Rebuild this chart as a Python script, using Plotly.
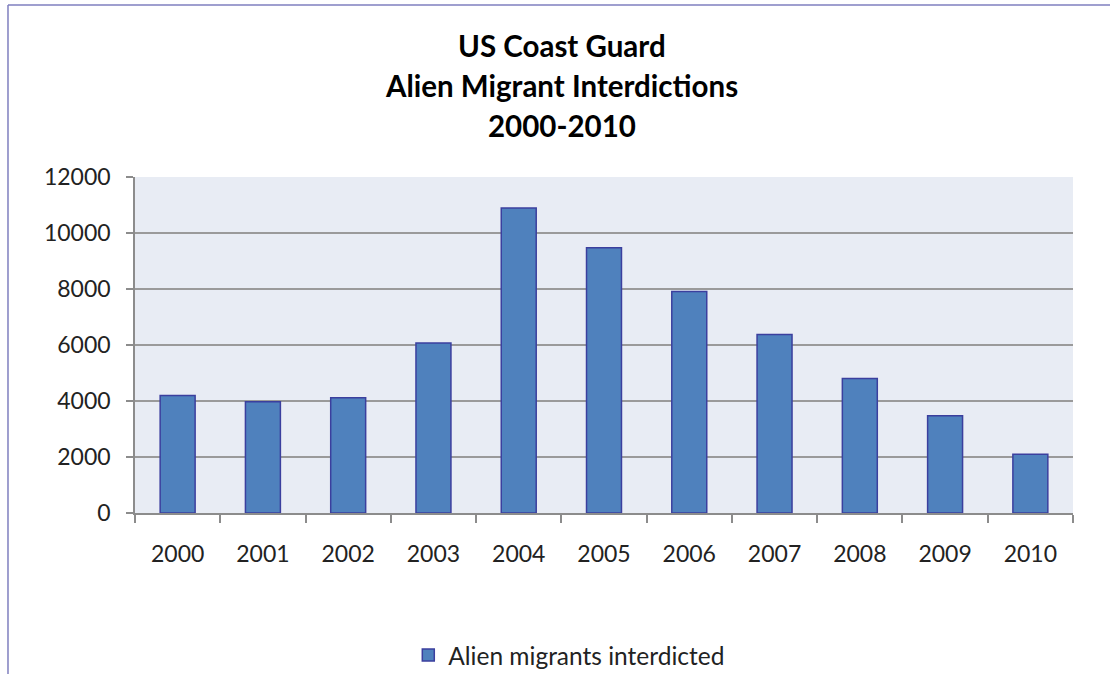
import plotly.graph_objects as go

years = ["2000", "2001", "2002", "2003", "2004", "2005", "2006", "2007", "2008", "2009", "2010"]
interdicted = [4200, 3975, 4115, 6075, 10890, 9470, 7910, 6375, 4800, 3475, 2100]
series_name = "Alien migrants interdicted"
y_ticks = [0, 2000, 4000, 6000, 8000, 10000, 12000]
y_tick_labels = [str(v) for v in y_ticks]
title_lines = ["US Coast Guard", "Alien Migrant Interdictions", "2000-2010"]
title_y = [1.39, 1.271, 1.152]

FONT = "Lato, 'Open Sans', sans-serif"

fig = go.Figure()
fig.add_trace(go.Bar(
    x=years, y=interdicted, name=series_name,
    marker=dict(color="#4F81BD", line=dict(color="#3B3F9E", width=1.5)),
    width=0.41, showlegend=True,
))

annotations = [
    dict(text="<b>%s</b>" % t, xref="paper", yref="paper", x=0.455, y=yy,
         xanchor="center", yanchor="middle", showarrow=False,
         font=dict(family=FONT, size=29.5, color="black"))
    for t, yy in zip(title_lines, title_y)
]

fig.update_layout(
    width=1110, height=674,
    margin=dict(l=135, r=37, t=177, b=161),
    paper_bgcolor="white", plot_bgcolor="#E8ECF4",
    font=dict(family=FONT, size=22, color="#222"),
    annotations=annotations,
    legend=dict(orientation="h", x=0.463, xanchor="center",
                yref="container", y=0.028, yanchor="middle",
                font=dict(size=24.5, color="#222"), itemwidth=30),
    xaxis=dict(
        type="category", showline=True, linecolor="#8c8c8c", linewidth=1.5,
        ticks="outside", tickson="boundaries", ticklen=8, tickcolor="#8c8c8c",
        tickwidth=1.5, showgrid=False, tickfont=dict(size=23, color="#222"),
        ticklabelstandoff=20,
    ),
    yaxis=dict(
        range=[0, 12000], tickvals=y_ticks, ticktext=y_tick_labels, showline=True,
        linecolor="#8c8c8c", linewidth=1.5, ticks="outside", ticklen=7,
        tickcolor="#8c8c8c", tickwidth=1.5,
        showgrid=True, gridcolor="#9a9a9a", gridwidth=1.5, zeroline=False,
        tickfont=dict(size=23, color="#222"), ticklabelstandoff=11,
    ),
    shapes=[
        dict(type="line", xref="paper", yref="paper", x0=-0.1354, x1=-0.1354,
             y0=1.512, y1=-0.6, line=dict(color="#7F7FBF", width=1.5)),
        dict(type="line", xref="paper", yref="paper", x0=-0.1354, x1=1.1,
             y0=1.512, y1=1.512, line=dict(color="#7F7FBF", width=1.5)),
    ],
)

fig.write_html(
    "out.html",
    config={"displayModeBar": False},
    post_script="document.body.style.margin='0';document.body.style.overflow='hidden';",
)
